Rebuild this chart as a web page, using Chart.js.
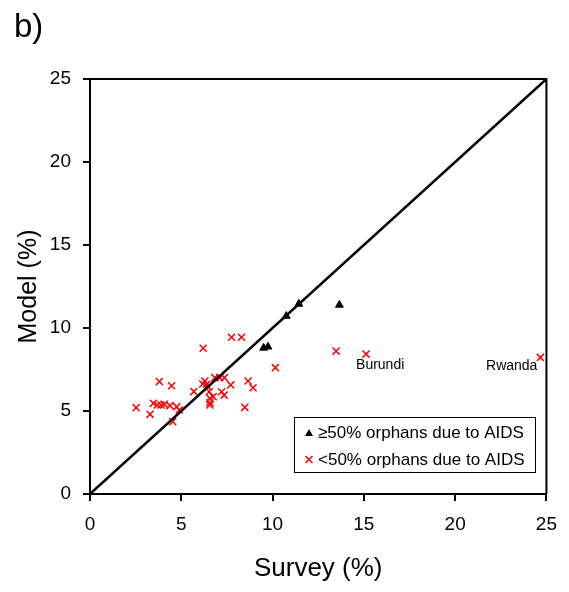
<!DOCTYPE html>
<html>
<head>
<meta charset="utf-8">
<script src="https://cdn.jsdelivr.net/npm/chart.js@4"></script>
<style>
  body { margin: 0; background: #fff; }
  canvas { display: block; }
</style>
</head>
<body>
<canvas id="chart" width="569" height="592"></canvas>
<script>
// valores (Survey %, Model %)
var aidsX = [13.66, 11.44, 10.75, 9.51, 9.75];
var aidsY = [11.39, 11.45, 10.72, 8.80, 8.87];

var otherX = [7.75, 8.30, 6.20, 10.15, 3.80, 4.47, 6.29, 6.39, 6.84, 7.11, 7.36, 7.71, 8.66, 8.93,
              5.69, 6.53, 6.75, 6.57, 6.57, 7.21, 7.35, 8.48, 2.53, 3.47, 3.69, 3.89, 4.07, 4.38,
              4.75, 4.89, 3.29, 4.53, 13.48, 15.12, 24.67, 6.18, 6.46, 6.57];
var otherY = [9.44, 9.44, 8.78, 7.61, 6.77, 6.52, 6.81, 6.61, 7.01, 7.01, 7.01, 6.57, 6.81, 6.40,
              6.17, 6.16, 5.86, 5.77, 5.50, 6.16, 5.96, 5.22, 5.20, 5.46, 5.36, 5.36, 5.40, 5.32,
              5.26, 5.06, 4.80, 4.36, 8.61, 8.43, 8.23, 6.63, 6.45, 5.36];

var lineX = [0, 25];
var lineY = [0, 25];

var seriesLabels = ['\u226550% orphans due to AIDS', '<50% orphans due to AIDS'];
var pointNames = [{ idx: 33, text: 'Burundi' }, { idx: 34, text: 'Rwanda' }];

var FONT = 'Liberation Sans, Arial, sans-serif';

function toPoints(xs, ys) {
    return xs.map(function(x, i) { return { x: x, y: ys[i] }; });
}

// moldura, painel "b)", legenda e nomes dos países
var extras = {
    id: 'extras',
    afterDraw: function(chart) {
        var ctx = chart.ctx;
        var a = chart.chartArea;
        ctx.save();
        ctx.strokeStyle = '#000';
        ctx.lineWidth = 2;
        ctx.beginPath();
        ctx.moveTo(a.left, a.top);
        ctx.lineTo(a.right, a.top);
        ctx.lineTo(a.right, a.bottom);
        ctx.stroke();

        ctx.fillStyle = '#000';
        ctx.font = '33px ' + FONT;
        ctx.textBaseline = 'alphabetic';
        ctx.textAlign = 'left';
        ctx.fillText('b)', 14, 37);

        // nomes
        var meta = chart.getDatasetMeta(2);
        ctx.font = '14px ' + FONT;
        ctx.textBaseline = 'middle';
        pointNames.forEach(function(p) {
            var el = meta.data[p.idx];
            if (p.text === 'Rwanda') {
                ctx.textAlign = 'right';
                ctx.fillText(p.text, el.x - 3, el.y + 9);
            } else {
                ctx.textAlign = 'left';
                ctx.fillText(p.text, el.x - 10, el.y + 11);
            }
        });

        // legenda
        var bx = 294, by = 417, bw = 241, bh = 55;
        ctx.fillStyle = '#fff';
        ctx.fillRect(bx, by, bw, bh);
        ctx.strokeStyle = '#000';
        ctx.lineWidth = 1;
        ctx.strokeRect(bx + 0.5, by + 0.5, bw, bh);
        ctx.font = '17px ' + FONT;
        ctx.textAlign = 'left';
        ctx.textBaseline = 'middle';
        ctx.fillStyle = '#000';
        var rows = [433, 460];
        // triângulo
        ctx.beginPath();
        ctx.moveTo(309, rows[0] - 4);
        ctx.lineTo(313, rows[0] + 3);
        ctx.lineTo(305, rows[0] + 3);
        ctx.closePath();
        ctx.fill();
        ctx.fillText(seriesLabels[0], 318, rows[0]);
        // x vermelho
        ctx.strokeStyle = '#ff0000';
        ctx.lineWidth = 1.5;
        ctx.beginPath();
        ctx.moveTo(305.5, rows[1] - 4);
        ctx.lineTo(312.5, rows[1] + 3);
        ctx.moveTo(312.5, rows[1] - 4);
        ctx.lineTo(305.5, rows[1] + 3);
        ctx.stroke();
        ctx.fillText(seriesLabels[1], 318, rows[1]);
        ctx.restore();
    }
};

var ctx = document.getElementById('chart').getContext('2d');
new Chart(ctx, {
    type: 'scatter',
    data: {
        datasets: [{
            label: 'diagonal',
            data: toPoints(lineX, lineY),
            showLine: true,
            borderColor: '#000',
            borderWidth: 2.5,
            pointRadius: 0
        }, {
            label: seriesLabels[0],
            data: toPoints(aidsX, aidsY),
            pointStyle: 'triangle',
            pointRadius: 4.5,
            backgroundColor: '#000',
            borderColor: '#000',
            borderWidth: 1
        }, {
            label: seriesLabels[1],
            data: toPoints(otherX, otherY),
            pointStyle: 'crossRot',
            pointRadius: 5,
            borderColor: '#ff0000',
            borderWidth: 1.5
        }]
    },
    options: {
        responsive: false,
        animation: false,
        devicePixelRatio: 1,
        layout: { padding: { left: 0, top: 79, right: 21, bottom: 0 } },
        plugins: {
            legend: { display: false },
            tooltip: { enabled: false }
        },
        scales: {
            x: {
                type: 'linear',
                min: 0,
                max: 25,
                afterFit: function(scale) { scale.height = 98; },
                ticks: { stepSize: 5, color: '#000', padding: 12, font: { family: FONT, size: 19 } },
                grid: { drawOnChartArea: false, drawTicks: true, tickLength: 7, color: '#000', lineWidth: 2 },
                border: { display: true, color: '#000', width: 2 },
                title: { display: true, text: 'Survey (%)', color: '#000', padding: { top: 0, bottom: 8 }, font: { family: FONT, size: 26 } }
            },
            y: {
                type: 'linear',
                min: 0,
                max: 25,
                afterFit: function(scale) { scale.width = 90; },
                ticks: { stepSize: 5, color: '#000', padding: 12, font: { family: FONT, size: 19 } },
                grid: { drawOnChartArea: false, drawTicks: true, tickLength: 7, color: '#000', lineWidth: 2 },
                border: { display: true, color: '#000', width: 2 },
                title: { display: true, text: 'Model (%)', color: '#000', padding: { top: 14, bottom: 0 }, font: { family: FONT, size: 25 } }
            }
        }
    },
    plugins: [extras]
});
</script>
</body>
</html>
